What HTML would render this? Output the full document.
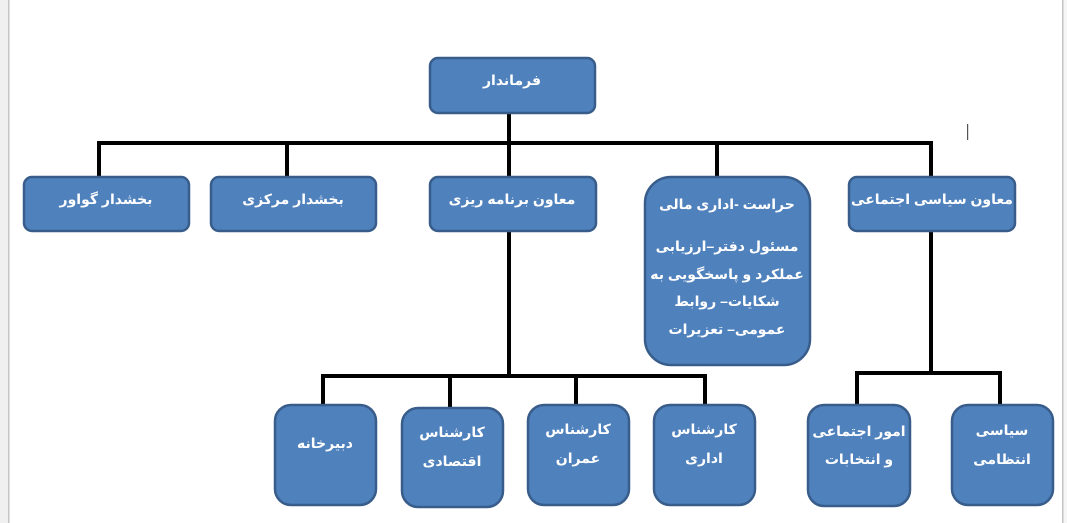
<!DOCTYPE html>
<html><head><meta charset="utf-8"><style>
html,body{margin:0;padding:0;background:#fff;}
svg{display:block;}
text{font-family:"Liberation Sans","DejaVu Sans",sans-serif;font-weight:bold;fill:#fff;font-size:14px;text-anchor:middle;direction:rtl;}
</style></head><body>
<svg width="1067" height="523" viewBox="0 0 1067 523" xmlns="http://www.w3.org/2000/svg">
<rect x="0" y="0" width="8" height="523" fill="#f0f0f0"/>
<rect x="8" y="0" width="1.5" height="523" fill="#c4c4c4"/>
<rect x="1062" y="0" width="1.5" height="523" fill="#c4c4c4"/>
<rect x="1063.5" y="0" width="4" height="523" fill="#f6f6f6"/>
<rect x="967" y="124" width="1.2" height="16" fill="#555"/>
<g stroke="#000" stroke-width="4" fill="none">
<line x1="509" y1="113" x2="509" y2="143"/>
<polyline points="99,177 99,143 931,143 931,177"/>
<line x1="287" y1="143" x2="287" y2="177"/>
<line x1="509" y1="143" x2="509" y2="177"/>
<line x1="717" y1="143" x2="717" y2="177"/>
<line x1="509" y1="231" x2="509" y2="376"/>
<polyline points="323,405 323,376 705,376 705,405"/>
<line x1="450" y1="376" x2="450" y2="408"/>
<line x1="576" y1="376" x2="576" y2="405"/>
<line x1="931" y1="231" x2="931" y2="373"/>
<polyline points="857,405 857,373 1000,373 1000,405"/>
</g>
<g fill="#4f81bd" stroke="#385d8a" stroke-width="2.5">
<rect x="430" y="58" width="165" height="55" rx="8"/>
<rect x="24" y="177" width="165" height="54" rx="8"/>
<rect x="211" y="177" width="165" height="54" rx="8"/>
<rect x="430" y="177" width="166" height="54" rx="8"/>
<rect x="645" y="177" width="165" height="188" rx="26"/>
<rect x="849" y="177" width="166" height="54" rx="8"/>
<rect x="275" y="405" width="101" height="100" rx="16"/>
<rect x="402" y="408" width="101" height="99" rx="16"/>
<rect x="528" y="405" width="101" height="100" rx="16"/>
<rect x="654" y="405" width="101" height="100" rx="16"/>
<rect x="808" y="405" width="102" height="101" rx="16"/>
<rect x="952" y="405" width="101" height="100" rx="16"/>
</g>
<text x="512" y="85">فرماندار</text>
<text x="106" y="204">بخشدار گواور</text>
<text x="293" y="204">بخشدار مرکزی</text>
<text x="512" y="204">معاون برنامه ریزی</text>
<text x="932" y="204">معاون سیاسی اجتماعی</text>
<text x="727" y="209">حراست -اداری مالی</text>
<text x="727" y="251">مسئول دفتر–ارزیابی</text>
<text x="727" y="279">عملکرد و پاسخگویی به</text>
<text x="727" y="306">شکایات– روابط</text>
<text x="727" y="334">عمومی– تعزیرات</text>
<text x="325" y="448">دبیرخانه</text>
<text x="452" y="437">کارشناس</text>
<text x="452" y="466">اقتصادی</text>
<text x="578" y="434">کارشناس</text>
<text x="578" y="463">عمران</text>
<text x="704" y="434">کارشناس</text>
<text x="704" y="463">اداری</text>
<text x="859" y="436">امور اجتماعی</text>
<text x="859" y="464">و انتخابات</text>
<text x="1002" y="435">سیاسی</text>
<text x="1002" y="464">انتظامی</text>
</svg>
</body></html>
